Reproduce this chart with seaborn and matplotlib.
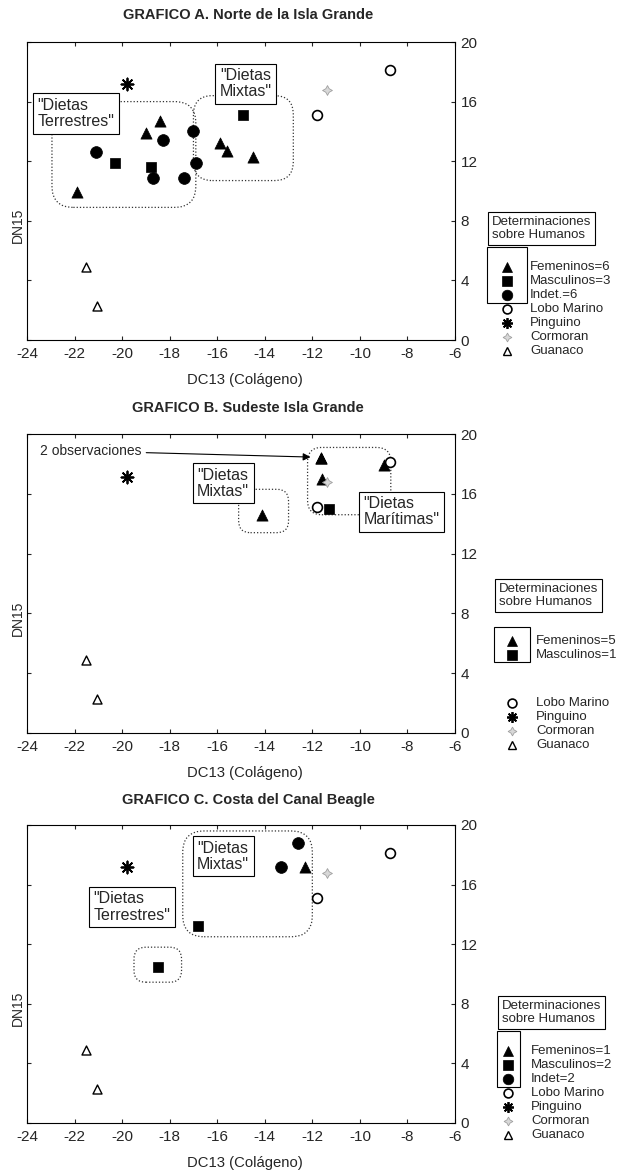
import matplotlib
matplotlib.use("Agg")
import matplotlib.pyplot as plt
from matplotlib.lines import Line2D
from matplotlib.patches import Rectangle, FancyBboxPatch
import pandas as pd
import seaborn as sns

W, H = 619, 1173

# fauna reference values (DC13, DN15), same in the three graphs
lobo_x = [-8.75, -11.8]
lobo_y = [18.1, 15.1]
pinguino_x = [-19.8]
pinguino_y = [17.15]
cormoran_x = [-11.4]
cormoran_y = [16.8]
guanaco_x = [-21.5, -21.05]
guanaco_y = [4.9, 2.3]

# GRAFICO A - human samples
a_fem_x = [-18.4, -19.0, -21.9, -15.9, -15.6, -14.5]
a_fem_y = [14.7, 13.9, 9.9, 13.2, 12.7, 12.3]
a_masc_x = [-20.3, -18.8, -14.9]
a_masc_y = [11.9, 11.6, 15.1]
a_ind_x = [-21.1, -18.3, -18.7, -17.4, -17.0, -16.9]
a_ind_y = [12.6, 13.4, 10.9, 10.9, 14.0, 11.9]

# GRAFICO B
b_fem_x = [-14.1, -11.65, -11.65, -11.6, -9.0]
b_fem_y = [14.6, 18.4, 18.4, 17.0, 17.9]
b_masc_x = [-11.3]
b_masc_y = [15.0]

# GRAFICO C
c_fem_x = [-12.3]
c_fem_y = [17.2]
c_masc_x = [-16.8, -18.5]
c_masc_y = [13.2, 10.5]
c_ind_x = [-12.6, -13.3]
c_ind_y = [18.8, 17.2]

titles = {
    "A": "GRAFICO A. Norte de la Isla Grande",
    "B": "GRAFICO B. Sudeste Isla Grande",
    "C": "GRAFICO C. Costa del Canal Beagle",
}
human_labels = {
    "A": ["Femeninos=6", "Masculinos=3", "Indet.=6"],
    "B": ["Femeninos=5", "Masculinos=1"],
    "C": ["Femeninos=1", "Masculinos=2", "Indet=2"],
}
fauna_labels = ["Lobo Marino", "Pinguino", "Cormoran", "Guanaco"]

# dotted "diet" areas: (x0, x1, y0, y1, rounding)
areas = {
    "A": [(-22.95, -16.9, 8.9, 16.0, 0.9), (-17.0, -12.8, 10.7, 16.4, 0.8)],
    "B": [(-15.1, -13.0, 13.4, 16.3, 0.5), (-12.2, -8.7, 14.6, 19.1, 0.6)],
    "C": [(-17.45, -12.0, 12.5, 19.6, 0.9), (-19.5, -17.5, 9.45, 11.8, 0.5)],
}
# label boxes: (text, x centre, y centre)
boxes = {
    "A": [('"Dietas\nTerrestres"', -21.95, 15.2), ('"Dietas\nMixtas"', -14.8, 17.2)],
    "B": [('"Dietas\nMixtas"', -15.75, 16.7), ('"Dietas\nMarítimas"', -8.25, 14.8)],
    "C": [('"Dietas\nMixtas"', -15.75, 17.9), ('"Dietas\nTerrestres"', -19.6, 14.5)],
}


def frame(parts):
    rows = []
    for grupo, xs, ys in parts:
        rows += [{"grupo": grupo, "DC13": x, "DN15": y} for x, y in zip(xs, ys)]
    return pd.DataFrame(rows)


fauna = [("Lobo Marino", lobo_x, lobo_y), ("Pinguino", pinguino_x, pinguino_y),
         ("Cormoran", cormoran_x, cormoran_y), ("Guanaco", guanaco_x, guanaco_y)]
frames = {
    "A": frame([("Femeninos", a_fem_x, a_fem_y), ("Masculinos", a_masc_x, a_masc_y),
                ("Indet", a_ind_x, a_ind_y)] + fauna),
    "B": frame([("Femeninos", b_fem_x, b_fem_y), ("Masculinos", b_masc_x, b_masc_y)] + fauna),
    "C": frame([("Femeninos", c_fem_x, c_fem_y), ("Masculinos", c_masc_x, c_masc_y),
                ("Indet", c_ind_x, c_ind_y)] + fauna),
}

STYLES = {
    "Femeninos": dict(marker="^", s=65, color="black", edgecolor="black", linewidth=0.5),
    "Masculinos": dict(marker="s", s=60, color="black", edgecolor="black", linewidth=0.5),
    "Indet": dict(marker="o", s=72, color="black", edgecolor="black", linewidth=0.5),
    "Lobo Marino": dict(marker="o", s=50, color="white", edgecolor="black", linewidth=1.2),
    "Pinguino": dict(marker=(8, 2, 0), s=75, color="black", linewidth=1.3),
    "Cormoran": dict(marker=(4, 1, 0), s=50, color="#d8d8d8", edgecolor="#a0a0a0", linewidth=0.6),
    "Guanaco": dict(marker="^", s=42, color="white", edgecolor="black", linewidth=1.0),
}
human_keys = ["Femeninos", "Masculinos", "Indet"]

# page layout in pixels
AX_PX = {"A": (27, 42, 455, 340), "B": (27, 434, 455, 733), "C": (27, 825, 455, 1123)}
TITLE_Y = {"A": 15, "B": 408, "C": 800}
LEGEND = {
    "A": dict(title=(487, 212), key=(487, 247, 527, 303), mx=507, tx=530,
              rows=[267, 281, 295, 309, 323, 337, 351]),
    "B": dict(title=(494, 579), key=(494, 627, 530, 662), mx=512, tx=536,
              rows=[641, 655, 703, 717, 731, 745]),
    "C": dict(title=(497, 996), key=(497, 1031, 520, 1087), mx=508, tx=531,
              rows=[1051, 1065, 1079, 1093, 1107, 1121, 1135]),
}

sns.set_style("ticks")
plt.rcParams["font.family"] = ["Liberation Sans", "DejaVu Sans"]
plt.rcParams["axes.unicode_minus"] = False


def fx(px):
    return px / W


def fy(py):
    return 1 - py / H


fig = plt.figure(figsize=(W / 100, H / 100), dpi=100)

for key in "ABC":
    l, t, r, b = AX_PX[key]
    ax = fig.add_axes([fx(l), fy(b), (r - l) / W, (b - t) / H])
    df = frames[key]
    for grp, st in STYLES.items():
        sub = df[df["grupo"] == grp]
        if sub.empty:
            continue
        sns.scatterplot(data=sub, x="DC13", y="DN15", ax=ax, legend=False, zorder=5, **st)

    ax.set_xlim(-24, -6)
    ax.set_ylim(0, 20)
    ax.set_xticks(range(-24, -5, 2))
    ax.set_yticks(range(0, 21, 4))
    ax.tick_params(axis="y", left=True, right=True, labelleft=False, labelright=True,
                   direction="in", length=3, width=0.8, labelsize=11, pad=4)
    ax.tick_params(axis="x", top=True, bottom=True, direction="in", length=3, width=0.8,
                   labelsize=11, pad=5)
    for sp in ax.spines.values():
        sp.set_linewidth(0.8)
        sp.set_color("black")

    ax.set_xlabel("DC13 (Colágeno)", fontsize=10.7)
    ax.xaxis.set_label_coords(0.51, -0.112)
    ax.set_ylabel("DN15", fontsize=10)
    ax.yaxis.set_label_coords(-0.006, 0.385)

    fig.text(fx(248), fy(TITLE_Y[key]), titles[key], ha="center", va="center",
             fontsize=10.5, fontweight="bold")

    # dotted diet areas
    for x0, x1, y0, y1, rr in areas[key]:
        ax.add_patch(FancyBboxPatch((x0, y0), x1 - x0, y1 - y0,
                                    boxstyle=f"round,pad=0,rounding_size={rr}",
                                    mutation_aspect=1.6, fill=False, ec="#333333",
                                    lw=0.9, ls=(0, (1, 1.6)), zorder=2))
    for txt, cx, cy in boxes[key]:
        ax.text(cx, cy, txt, ha="center", va="center", multialignment="left",
                fontsize=11.5, linespacing=1.1, zorder=4,
                bbox=dict(boxstyle="square,pad=0.28", fc="white", ec="black", lw=0.8))

    if key == "B":
        ax.annotate("2 observaciones", xy=(-11.9, 18.45), xytext=(-23.45, 18.85),
                    ha="left", va="center", fontsize=10, zorder=6,
                    arrowprops=dict(arrowstyle="-|>", color="black", lw=0.8,
                                    shrinkA=1, shrinkB=3, mutation_scale=11))

    # legend block on the right
    lg = LEGEND[key]
    tx0, ty0 = lg["title"]
    fig.text(fx(tx0 + 5), fy(ty0 + 4), "Determinaciones\nsobre Humanos", ha="left",
             va="top", fontsize=9.5, linespacing=1.15,
             bbox=dict(boxstyle="square,pad=0.3", fc="white", ec="black", lw=0.8))
    kx0, ky0, kx1, ky1 = lg["key"]
    fig.add_artist(Rectangle((fx(kx0), fy(ky1)), (kx1 - kx0) / W, (ky1 - ky0) / H,
                             transform=fig.transFigure, fill=False, ec="black", lw=0.8))
    keys = human_keys[:len(human_labels[key])] + fauna_labels
    labels = human_labels[key] + fauna_labels
    for k, lab, yy in zip(keys, labels, lg["rows"]):
        st = STYLES[k]
        fig.add_artist(Line2D([fx(lg["mx"])], [fy(yy)], transform=fig.transFigure,
                              marker=st["marker"], ls="none",
                              markersize=st["s"] ** 0.5 * 0.9,
                              markerfacecolor=st["color"],
                              markeredgecolor=st.get("edgecolor", st["color"]),
                              markeredgewidth=st["linewidth"]))
        fig.text(fx(lg["tx"]), fy(yy), lab, ha="left", va="center", fontsize=9.5)

fig.savefig("out.png", dpi=100)
